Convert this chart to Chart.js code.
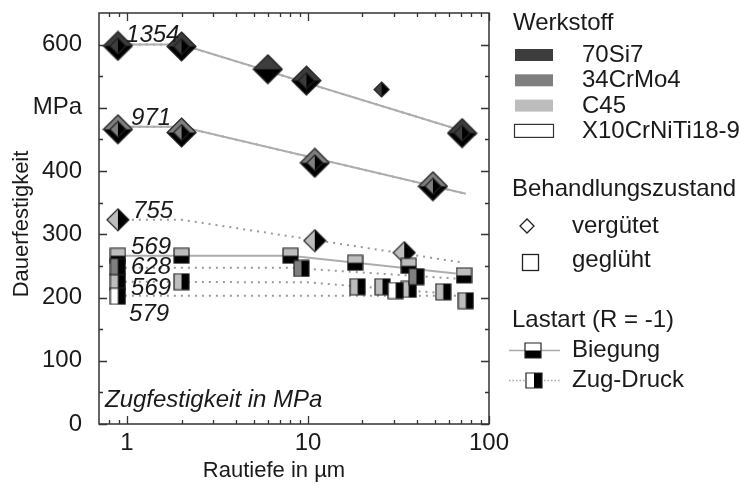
<!DOCTYPE html>
<html>
<head>
<meta charset="utf-8">
<script src="https://cdn.jsdelivr.net/npm/chart.js@4.4.1/dist/chart.umd.min.js"></script>
<style>
  html, body { margin: 0; padding: 0; background: #fff; }
  #wrap { width: 740px; height: 485px; }
</style>
</head>
<body>
<div id="wrap"><canvas id="chart" width="740" height="485"></canvas></div>
<script>
/* ==================== Daten: Rautiefe Rz (µm) / Dauerfestigkeit (MPa) ==================== */
// 70Si7, vergütet
const si7Rz = [0.89, 2.0, 6.0, 9.8, 71];
const si7Biegung = [598, 597, 561, 543, 460];
const si7ZdRz = [0.89, 2.0, 9.8, 71];
const si7Zd = [598, 597, 543, 460];
const si7ZdEinzelRz = [25.5];
const si7ZdEinzel = [529];
// 34CrMo4, vergütet
const crmoRz = [0.89, 2.0, 10.9, 49];
const crmoVerg = [466, 461, 413, 376];
// C45, vergütet, Zug-Druck
const c45VergRz = [0.89, 10.9, 34];
const c45Verg = [323, 290, 271];
// C45, geglüht
const c45BiegRz = [0.89, 2.0, 8.0, 18.2, 36, 72.8];
const c45Bieg = [266, 266, 266, 255, 250, 235];
const c45ZdRz = [0.89, 2.0, 18.8, 25.8, 36, 55.9, 74.5];
const c45Zd = [225, 225, 217, 217, 213, 209, 195];
// 34CrMo4, geglüht, Zug-Druck
const crmoGlRz = [0.89, 9.2, 39.7];
const crmoGl = [249, 246, 233];
// X10CrNiTi18-9, geglüht, Zug-Druck
const x10Rz = [0.89, 30.5];
const x10 = [202, 211];

// Ausgleichsgeraden
const fitSi7Rz = [0.89, 2.0, 85];
const fitSi7 = [600, 600, 457];
const fitCrmoRz = [0.89, 2.0, 74.5];
const fitCrmo = [470, 470, 364];
const fitC45VergRz = [0.89, 2.0, 72.7];
const fitC45Verg = [323, 323, 255];
const fitC45BiegRz = [0.89, 8.0, 65.6];
const fitC45Bieg = [266, 266, 238];
const fitCrmoGlRz = [0.89, 8.0, 65.6];
const fitCrmoGl = [247, 247, 230];
const fitC45ZdRz = [0.89, 10, 55];
const fitC45Zd = [225, 224, 207];
const fitX10Rz = [0.89, 66];
const fitX10 = [203, 203];

// Zugfestigkeit in MPa, an die jeweilige Gerade geschrieben
const rmTexts = ['1354', '971', '755', '569', '628', '569', '579'];
const rmAt = [600, 470, 323, 266, 247, 224, 203];

// Achsen
const xMajor = [1, 10, 100];
const xMinor = [0.8, 0.9, 2, 3, 4, 5, 6, 7, 8, 9, 20, 30, 40, 50, 60, 70, 80, 90];
const yMajor = [0, 100, 200, 300, 400, 500, 600];
const yMinor = [50, 150, 250, 350, 450, 550];

/* ==================== Stil ==================== */
const FONT = "'Liberation Sans', Arial, Helvetica, sans-serif";
const TEXT = '#1a1a1a';
const COLORS = { si7: '#3d3d3d', crmo: '#7f7f7f', c45: '#bdbdbd', x10: '#ffffff' };
// Versatz der Rm-Beschriftungen (px) relativ zu Rz = 1 und Geradenwert
const rmNudge = [[-1, -3], [4, -2], [6, -2], [4, -2], [4, 6], [4, 13], [2, 25]];

/* ==================== Marker ==================== */
// zweigeteilter Marker: Werkstofffarbe oben (Biegung) bzw. links (Zug-Druck), Rest schwarz
function splitMarker(shape, w, h, fill, split) {
    const c = document.createElement('canvas');
    c.width = w + 2;
    c.height = h + 2;
    const g = c.getContext('2d');
    const cx = c.width / 2, cy = c.height / 2;
    const path = () => {
        g.beginPath();
        if (shape === 'diamond') {
            g.moveTo(cx, cy - h / 2);
            g.lineTo(cx + w / 2, cy);
            g.lineTo(cx, cy + h / 2);
            g.lineTo(cx - w / 2, cy);
            g.closePath();
        } else {
            g.rect(cx - w / 2, cy - h / 2, w, h);
        }
    };
    path();
    g.fillStyle = '#000';
    g.fill();
    g.save();
    path();
    g.clip();
    g.fillStyle = fill;
    if (split === 'top') g.fillRect(0, 0, c.width, cy);
    else g.fillRect(0, 0, cx, c.height);
    g.restore();
    path();
    g.lineWidth = 1.2;
    g.strokeStyle = '#222';
    g.stroke();
    return c;
}

const pts = (xs, ys) => xs.map((x, i) => ({ x, y: ys[i] }));

function markerSet(xs, ys, img, order) {
    return { data: pts(xs, ys), showLine: false, pointStyle: img, pointRadius: 8, order };
}

function fitLine(xs, ys, dotted) {
    return {
        data: pts(xs, ys),
        showLine: true,
        pointRadius: 0,
        borderColor: dotted ? '#9a9a9a' : '#adadad',
        borderWidth: 2,
        borderDash: dotted ? [2, 5] : [],
        order: 10
    };
}

const datasets = [
    // Geraden
    fitLine(fitSi7Rz, fitSi7, false),
    fitLine(fitSi7Rz, fitSi7, true),
    fitLine(fitCrmoRz, fitCrmo, false),
    fitLine(fitCrmoRz, fitCrmo, true),
    fitLine(fitC45VergRz, fitC45Verg, true),
    fitLine(fitC45BiegRz, fitC45Bieg, false),
    fitLine(fitCrmoGlRz, fitCrmoGl, true),
    fitLine(fitC45ZdRz, fitC45Zd, true),
    fitLine(fitX10Rz, fitX10, true),
    // vergütet (Raute)
    markerSet(si7Rz, si7Biegung, splitMarker('diamond', 29, 29, COLORS.si7, 'top'), 4),
    markerSet(si7ZdRz, si7Zd, splitMarker('diamond', 16, 16, COLORS.si7, 'left'), 3),
    markerSet(si7ZdEinzelRz, si7ZdEinzel, splitMarker('diamond', 15, 15, COLORS.si7, 'left'), 3),
    markerSet(crmoRz, crmoVerg, splitMarker('diamond', 29, 29, COLORS.crmo, 'top'), 4),
    markerSet(crmoRz, crmoVerg, splitMarker('diamond', 16, 16, COLORS.crmo, 'left'), 3),
    markerSet(c45VergRz, c45Verg, splitMarker('diamond', 22, 22, COLORS.c45, 'left'), 3),
    // geglüht (Quadrat)
    markerSet(c45BiegRz, c45Bieg, splitMarker('square', 15, 15, COLORS.c45, 'top'), 2),
    markerSet(crmoGlRz, crmoGl, splitMarker('square', 15, 16, COLORS.crmo, 'left'), 1),
    markerSet(c45ZdRz, c45Zd, splitMarker('square', 15, 16, COLORS.c45, 'left'), 1),
    markerSet(x10Rz, x10, splitMarker('square', 15, 16, COLORS.x10, 'left'), 0)
];

/* ==================== Rahmen, Ticks, Texte ==================== */
const decorations = {
    id: 'decorations',
    afterDatasetsDraw(chart) {
        const { ctx, chartArea: a, scales: { x, y } } = chart;
        ctx.save();
        ctx.strokeStyle = '#333';
        ctx.lineWidth = 1.5;
        ctx.strokeRect(a.left, a.top, a.right - a.left, a.bottom - a.top);

        // Ticks nach innen, auf allen vier Seiten
        ctx.lineWidth = 1.3;
        ctx.beginPath();
        const tickX = (v, len) => {
            const px = Math.round(x.getPixelForValue(v)) + 0.5;
            ctx.moveTo(px, a.bottom); ctx.lineTo(px, a.bottom - len);
            ctx.moveTo(px, a.top); ctx.lineTo(px, a.top + len);
        };
        const tickY = (v, len) => {
            const py = Math.round(y.getPixelForValue(v)) + 0.5;
            ctx.moveTo(a.left, py); ctx.lineTo(a.left + len, py);
            ctx.moveTo(a.right, py); ctx.lineTo(a.right - len, py);
        };
        xMajor.forEach(v => tickX(v, 8));
        xMinor.forEach(v => tickX(v, 4));
        yMajor.forEach(v => tickY(v, 8));
        yMinor.forEach(v => tickY(v, 4));
        ctx.stroke();

        // Zugfestigkeiten
        ctx.fillStyle = TEXT;
        ctx.font = 'italic 24px ' + FONT;
        ctx.textAlign = 'left';
        ctx.textBaseline = 'alphabetic';
        const x1 = x.getPixelForValue(1);
        rmTexts.forEach((t, i) => {
            ctx.fillText(t, x1 + rmNudge[i][0], y.getPixelForValue(rmAt[i]) + rmNudge[i][1]);
        });
        ctx.fillText('Zugfestigkeit in MPa', a.left + 6, a.bottom - 17);
        ctx.restore();
    },
    afterDraw(chart) {
        const { ctx } = chart;
        ctx.save();
        ctx.fillStyle = TEXT;
        ctx.textBaseline = 'alphabetic';

        // Achsentitel
        ctx.font = '22px ' + FONT;
        ctx.textAlign = 'center';
        ctx.fillText('Rautiefe in µm', 274, 477);
        ctx.save();
        ctx.translate(28, 224);
        ctx.rotate(-Math.PI / 2);
        ctx.fillText('Dauerfestigkeit', 0, 0);
        ctx.restore();

        // Legende
        ctx.textAlign = 'left';
        ctx.font = '24px ' + FONT;
        ctx.fillText('Werkstoff', 513, 30);
        const swatches = [
            ['70Si7', COLORS.si7], ['34CrMo4', COLORS.crmo],
            ['C45', COLORS.c45], ['X10CrNiTi18-9', COLORS.x10]
        ];
        swatches.forEach(([name, col], i) => {
            const top = 49 + i * 25.3;
            ctx.fillStyle = col;
            ctx.fillRect(515, top, 38, 12);
            if (col === COLORS.x10) {
                ctx.strokeStyle = '#333';
                ctx.lineWidth = 1.2;
                ctx.strokeRect(514.5, top - 0.5, 39, 13);
            }
            ctx.fillStyle = TEXT;
            ctx.fillText(name, 582, top + 13);
        });

        ctx.fillText('Behandlungszustand', 512, 196);
        ctx.strokeStyle = '#222';
        ctx.lineWidth = 1.3;
        ctx.beginPath();
        ctx.moveTo(527, 219); ctx.lineTo(534, 226); ctx.lineTo(527, 233); ctx.lineTo(520, 226);
        ctx.closePath();
        ctx.stroke();
        ctx.fillText('vergütet', 572, 233);
        ctx.strokeRect(522.5, 254.5, 16, 16);
        ctx.fillText('geglüht', 572, 267);

        ctx.fillText('Lastart (R = -1)', 512, 327);
        // Biegung: durchgezogene Linie, Quadrat oben weiß / unten schwarz
        ctx.strokeStyle = '#aaa';
        ctx.lineWidth = 1.5;
        ctx.beginPath(); ctx.moveTo(509, 350.5); ctx.lineTo(560, 350.5); ctx.stroke();
        ctx.drawImage(splitMarker('square', 16, 15, '#fff', 'top'), 524, 342);
        ctx.fillText('Biegung', 572, 357);
        // Zug-Druck: punktierte Linie, Quadrat links weiß / rechts schwarz
        ctx.setLineDash([1.5, 2]);
        ctx.beginPath(); ctx.moveTo(509, 380.5); ctx.lineTo(560, 380.5); ctx.stroke();
        ctx.setLineDash([]);
        ctx.drawImage(splitMarker('square', 16, 15, '#fff', 'left'), 525, 372);
        ctx.fillText('Zug-Druck', 572, 387);
        ctx.restore();
    }
};

/* ==================== Chart ==================== */
new Chart(document.getElementById('chart'), {
    type: 'scatter',
    data: { datasets },
    options: {
        responsive: false,
        animation: false,
        events: [],
        layout: { padding: { left: 0, right: 251, top: 13, bottom: 0 } },
        plugins: { legend: { display: false }, tooltip: { enabled: false } },
        scales: {
            x: {
                type: 'logarithmic',
                min: 0.7,
                max: 100,
                afterBuildTicks: s => { s.ticks = xMajor.map(v => ({ value: v })); },
                afterFit: s => { s.height = 61; s.paddingLeft = 0; s.paddingRight = 0; },
                grid: { display: false },
                border: { display: false },
                ticks: {
                    color: TEXT,
                    font: { family: FONT, size: 24 },
                    padding: -3,
                    maxRotation: 0,
                    autoSkip: false,
                    callback: v => String(v)
                }
            },
            y: {
                min: 0,
                max: 650,
                afterBuildTicks: s => { s.ticks = yMajor.map(v => ({ value: v })); },
                afterFit: s => { s.width = 99; s.paddingTop = 0; s.paddingBottom = 0; },
                grid: { display: false },
                border: { display: false },
                ticks: {
                    color: TEXT,
                    font: { family: FONT, size: 24 },
                    padding: 9,
                    callback: v => (v === 500 ? 'MPa' : String(v))
                }
            }
        }
    },
    plugins: [decorations]
});
</script>
</body>
</html>
